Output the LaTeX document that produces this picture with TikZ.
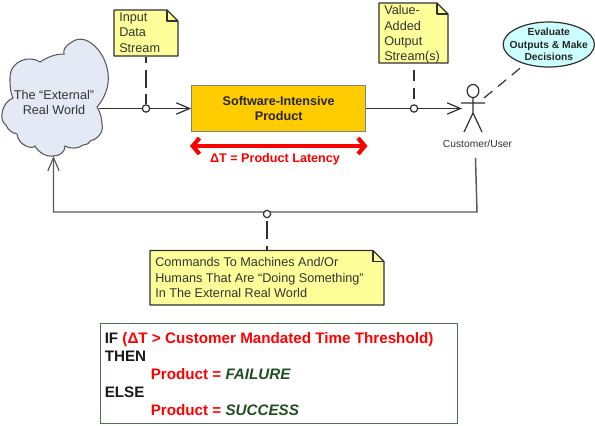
\documentclass[tikz,border=0pt]{standalone}
\usepackage{fontspec}
\setmainfont{Liberation Sans}
\usetikzlibrary{arrows.meta,shapes.geometric}
\definecolor{notey}{HTML}{FFFF99}
\definecolor{lineg}{HTML}{303030}
\definecolor{cloudf}{HTML}{E3EAF6}
\definecolor{prodf}{HTML}{FFCC00}
\definecolor{ovalf}{HTML}{CCFFFF}
\definecolor{grn}{HTML}{1F4F1F}
\tikzset{
 x=0.75pt,y=-0.75pt,
 conn/.style={draw=lineg,line width=0.9pt},
 vtip/.style={-{Straight Barb[length=10pt,width=8.5pt,line width=0.9pt]}},
 arr/.style={conn,vtip},
 dashlong/.style={draw=lineg,line width=0.9pt,dash pattern=on 13.5pt off 5pt},
 dashshort/.style={draw=lineg,line width=0.9pt,dash pattern=on 8pt off 5.5pt},
 dotnode/.style={circle,draw=lineg,line width=0.9pt,fill=white,minimum size=5.5pt,inner sep=0pt},
 notetext/.style={font=\fontsize{9.5pt}{11.5pt}\selectfont,text=black!80,align=left,anchor=north west,inner sep=0pt},
 notebox/.style={draw=lineg,fill=notey,line width=0.9pt,line join=round},
 boldtext/.style={font=\fontsize{9.45pt}{11pt}\selectfont\bfseries},
}
\begin{document}
\begin{tikzpicture}
\useasboundingbox (0,0) rectangle (595,425);
% cloud
\draw[draw=black!65,fill=cloudf,line width=0.8pt]
 (97,107) .. controls (103,100) and (110,88) .. (108,73)
 .. controls (105,50) and (85,32) .. (72,42)
 .. controls (65,46) and (63,50) .. (64,54)
 .. controls (55,54) and (48,57) .. (40,62)
 .. controls (30,55) and (10,60) .. (10,78)
 .. controls (10,85) and (10,92) .. (13,98)
 .. controls (2,102) and (-2,120) .. (6,125)
 .. controls (8,130) and (12,133) .. (17,134)
 .. controls (18,145) and (32,150) .. (35,146)
 .. controls (38,152) and (46,157) .. (53,156)
 .. controls (60,156) and (65,152) .. (65,146)
 .. controls (70,149) and (78,149) .. (83,145)
 .. controls (86,145) and (90,143) .. (90,141)
 .. controls (98,139) and (104,132) .. (102,124)
 .. controls (102,118) and (100,112) .. (97,107) -- cycle;
\node[font=\fontsize{9.5pt}{11.3pt}\selectfont,text=black!80,align=center,inner sep=0pt] (world) at (54,102.5) {The “External”\\Real World};
\coordinate (worldr) at (99,108.5);
\coordinate (worldb) at (53.5,156);
% product
\node[draw=black!50,fill=prodf,line width=0.8pt,minimum width=130.5pt,minimum height=34.8pt,inner sep=0pt,boldtext,align=center,text=black!85] (prod) at (278.7,108.5) {Software-Intensive\\Product};
% input
\draw[arr] (worldr) -- (prod.west);
\path[notebox] (114,10) -- (167,10) -- (178,21) -- (178,56) -- (114,56) -- cycle;
\draw[notebox,fill=none] (167,10) -- (167,21) -- (178,21);
\coordinate (n1) at (146,57);
\node[notetext] (tn1) at (119,12.5) {Input\\Data\\Stream};
\node[dotnode] (d1) at (146,108.5) {};
\draw[dashlong,dash phase=9pt] (n1) -- (d1);
% actor
\coordinate (head) at (473,91);
\draw[lineg,line width=0.9pt] (473,91) circle (4.4pt and 4.9pt);
\coordinate (neck) at (473,97.5);
\coordinate (hip) at (473,113);
\draw[lineg,line width=0.9pt] (neck) -- (hip) (461,103) -- (485,103) (464,132) -- (hip) -- (482,132);
\node[font=\fontsize{7.7pt}{8pt}\selectfont,text=black!80,inner sep=0pt] (actor) at (477.5,144) {Customer/User};
% output
\coordinate (actorl) at (462,108.5);
\draw[arr] (prod.east) -- (actorl);
\node[dotnode] (d2) at (414,108.5) {};
\path[notebox] (379,3) -- (437,3) -- (448,14) -- (448,63) -- (379,63) -- cycle;
\draw[notebox,fill=none] (437,3) -- (437,14) -- (448,14);
\coordinate (n2) at (414,70);
\node[notetext] (tn2) at (384,5.5) {Value-\\Added\\Output\\Stream(s)};
\draw[dashshort] (n2) -- (d2);
% oval
\node[ellipse,draw=lineg,fill=ovalf,line width=0.9pt,minimum width=68.5pt,minimum height=33.75pt,inner sep=0pt] (oval) at (548.8,44.5) {};
\node[align=center,text=black!85,inner sep=0pt,font=\fontsize{7.7pt}{9.3pt}\selectfont\bfseries] (ovaltext) at (oval.center) {Evaluate\\Outputs \& Make\\Decisions};
\coordinate (actorr) at (484,98);
\draw[dashshort] (actorr) -- (oval);
% latency
\coordinate (la) at (190,146);
\coordinate (lb) at (367.5,146);
\draw[red,line width=3.2pt,{Straight Barb[length=5pt,width=12pt]}-{Straight Barb[length=5pt,width=12pt]}] (la) -- (lb);
\node[red,boldtext,inner sep=0pt] (lat) at (275,159) {ΔT = Product Latency};
% feedback
\coordinate (fa) at (475.5,158);
\coordinate (fb) at (477,212);
\coordinate (fc) at (53.5,212);
\draw[draw=black!65,line width=1.1pt,vtip] (fa) -- (fb) -- (fc) -- (worldb);
\path[notebox] (150,250.5) -- (373,250.5) -- (384,261.5) -- (384,305) -- (150,305) -- cycle;
\draw[notebox,fill=none] (373,250.5) -- (373,261.5) -- (384,261.5);
\coordinate (n3) at (267,250.5);
\node[notetext] (tn3) at (155,257.5) {Commands To Machines And/Or\\Humans That Are “Doing Something”\\In The External Real World};
\node[dotnode] (d3) at (267,214) {};
\draw[dashlong,dash phase=9.75pt] (n3) -- (d3);
% rule
\node[draw=grn!80!white,fill=white,line width=0.7pt,minimum width=267.75pt,minimum height=75pt,inner sep=0pt] (rule) at (278.5,373) {};
\node[font=\fontsize{11.4pt}{13.5pt}\selectfont\bfseries,align=left,anchor=north west,inner sep=0pt,text=black!90] (rt) at (104.5,332) {IF {\color{red}(ΔT > Customer Mandated Time Threshold)}\\
THEN\\
\hspace*{34.5pt}{\color{red}Product = }{\color{grn}\itshape FAILURE}\\
ELSE\\
\hspace*{34.5pt}{\color{red}Product = }{\color{grn}\itshape SUCCESS}};
\end{tikzpicture}
\end{document}
